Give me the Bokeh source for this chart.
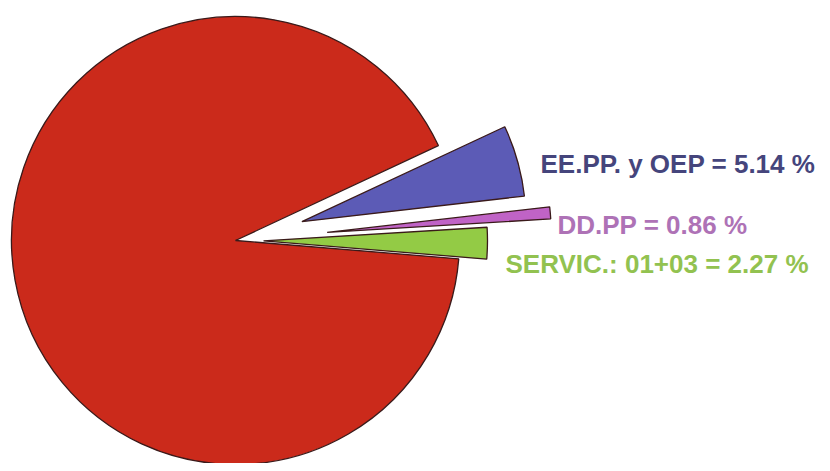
import math
from bokeh.plotting import figure
from bokeh.models import Range1d, ColumnDataSource
from bokeh.core.properties import value
from bokeh.embed import file_html
from bokeh.resources import INLINE

# ---- data ----
categories = ["Resto", "SERVIC.: 01+03", "DD.PP", "EE.PP. y OEP"]
shares = [91.73, 2.27, 0.86, 5.14]
labels = ["", "SERVIC.: 01+03 = 2.27 %", "DD.PP = 0.86 %", "EE.PP. y OEP = 5.14 %"]

# ---- styling / layout ----
slice_colors = ["#CB2A1B", "#93CB45", "#C063C6", "#5C5BB6"]
label_colors = ["#000000", "#92C250", "#AE72B6", "#45457C"]
explode = [0, 28, 92, 69]
label_x = [0, 505, 557, 540]
label_y = [0, 263, 224, 163]      # screen baselines
start_deg = -4.7
cx, cy, R = 235, 240, 224         # screen coords of pie centre
W, H = 822, 463

def sy(y):
    return H - y

total = sum(shares)
starts, ends, xs, ys = [], [], [], []
acc = start_deg
angles = {}
for i in [1, 2, 3, 0]:
    a0 = acc
    a1 = acc + shares[i] / total * 360.0
    acc = a1
    angles[i] = (a0, a1)

for i in range(len(shares)):
    a0, a1 = angles[i]
    mid = math.radians((a0 + a1) / 2)
    starts.append(math.radians(a0))
    ends.append(math.radians(a1))
    xs.append(cx + explode[i] * math.cos(mid))
    ys.append(sy(cy) + explode[i] * math.sin(mid))

src = ColumnDataSource(dict(x=xs, y=ys, start=starts, end=ends, color=slice_colors, cat=categories))

p = figure(width=W, height=H, x_range=Range1d(0, W), y_range=Range1d(0, H),
           output_backend="svg", toolbar_location=None, min_border=0)
p.axis.visible = False
p.grid.visible = False
p.outline_line_color = None
p.background_fill_color = "white"
p.border_fill_color = "white"

p.wedge(x="x", y="y", radius=R, start_angle="start", end_angle="end",
        fill_color="color", line_color="#3a1a1a", line_width=1.3, source=src)

tsrc = ColumnDataSource(dict(x=[label_x[i] for i in (1, 2, 3)],
                             y=[sy(label_y[i]) for i in (1, 2, 3)],
                             text=[labels[i] for i in (1, 2, 3)],
                             color=[label_colors[i] for i in (1, 2, 3)]))
p.text(x="x", y="y", text="text", text_color="color", source=tsrc,
       text_font=value("Liberation Sans"), text_font_size="26px",
       text_font_style="bold",
       text_align="left", text_baseline="alphabetic")

open("out.html", "w").write(file_html(p, INLINE))
